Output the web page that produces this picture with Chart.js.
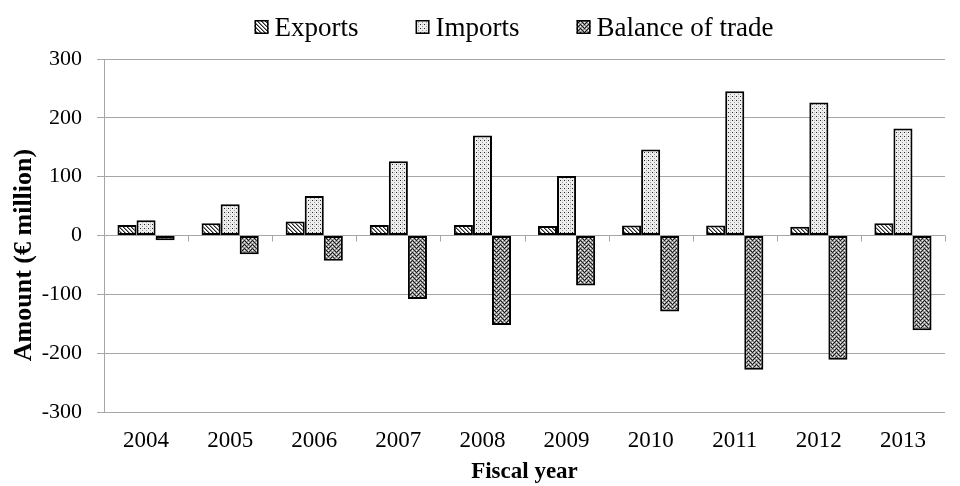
<!DOCTYPE html>
<html><head><meta charset="utf-8">
<script src="https://cdn.jsdelivr.net/npm/chart.js@4.4.1/dist/chart.umd.min.js"></script>
<style>html,body{margin:0;padding:0;background:#fff}</style>
</head><body>
<canvas id="c" width="960" height="486"></canvas>
<script>
const categories = ['2004','2005','2006','2007','2008','2009','2010','2011','2012','2013'];
const seriesNames = ['Exports','Imports','Balance of trade'];
const exportsValues = [18, 21, 24, 18, 18, 16, 17, 17, 15, 21];
const importsValues = [26, 53, 67, 126, 170, 101, 146, 245, 226, 182];
const balanceValues = [-8, -32, -43, -108, -152, -85, -129, -228, -211, -161];
const yTicks = [-300, -200, -100, 0, 100, 200, 300];

const FONT = '"Liberation Serif", "Times New Roman", serif';
const GRID = '#a6a6a6';
const canvas = document.getElementById('c');
const mainCtx = canvas.getContext('2d');

function makePattern(w, h, fn) {
  const t = document.createElement('canvas');
  t.width = w; t.height = h;
  const g = t.getContext('2d');
  const img = g.createImageData(w, h);
  for (let y = 0; y < h; y++) for (let x = 0; x < w; x++) {
    const v = fn(x, y); const i = (y * w + x) * 4;
    img.data[i] = img.data[i+1] = img.data[i+2] = v; img.data[i+3] = 255;
  }
  g.putImageData(img, 0, 0);
  return mainCtx.createPattern(t, 'repeat');
}
const patExports = makePattern(4, 4, (x, y) => {
  const d = ((x - y) % 4 + 4) % 4;
  return d === 0 ? 40 : (d === 1 ? 140 : 255);
});
const patImports = makePattern(4, 4, (x, y) => {
  if (x === 0 && y === 0) return 40;
  if (x === 2 && y === 2) return 150;
  if (x === 2 && y === 0) return 200;
  return 238;
});
const patBalance = makePattern(8, 8, (x, y) => {
  const zz = Math.abs(x - 4);
  const d = ((y - zz) % 4 + 4) % 4;
  const d2 = ((y + zz) % 4 + 4) % 4;
  if (d === 0) return 25;
  if (d2 === 2) return 245;
  return 150;
});

const legendPlugin = {
  id: 'patternLegend',
  afterDraw(chart) {
    const ctx = chart.ctx;
    ctx.save();
    ctx.font = '27px ' + FONT;
    const box = 14, gapText = 6, gapItem = 57;
    const items = chart.data.datasets.map(d => ({label: d.label, fill: d.backgroundColor, w: ctx.measureText(d.label).width}));
    const total = items.reduce((s, it) => s + box + gapText + it.w, 0) + gapItem * (items.length - 1);
    let x = 514 - total / 2;
    const boxTop = 20, baseline = 36;
    items.forEach(it => {
      ctx.fillStyle = it.fill;
      ctx.fillRect(x, boxTop, box, box);
      ctx.strokeStyle = '#000'; ctx.lineWidth = 1.5;
      ctx.strokeRect(x + 0.75, boxTop + 0.75, box - 1.5, box - 1.5);
      ctx.fillStyle = '#000'; ctx.textBaseline = 'alphabetic'; ctx.textAlign = 'left';
      ctx.fillText(it.label, x + box + gapText, baseline);
      x += box + gapText + it.w + gapItem;
    });
    ctx.restore();
  }
};

const zeroTicks = {
  id: 'zeroTicks',
  beforeDatasetsDraw(chart) {
    const {ctx, scales: {x, y}} = chart;
    const y0 = y.getPixelForValue(0);
    const half = (x.getPixelForValue(1) - x.getPixelForValue(0)) / 2;
    ctx.save();
    ctx.strokeStyle = GRID; ctx.lineWidth = 1;
    ctx.beginPath();
    for (let i = 0; i < categories.length; i++) {
      const px = Math.round(x.getPixelForValue(i) + half) + 0.5;
      ctx.moveTo(px, y0); ctx.lineTo(px, y0 + 6);
    }
    ctx.stroke();
    ctx.restore();
  }
};

const barCommon = {borderColor: '#000', borderWidth: 2, borderSkipped: false, categoryPercentage: 0.68, barPercentage: 1.0};

new Chart(canvas, {
  type: 'bar',
  data: {
    labels: categories,
    datasets: [
      Object.assign({label: seriesNames[0], data: exportsValues, backgroundColor: patExports}, barCommon),
      Object.assign({label: seriesNames[1], data: importsValues, backgroundColor: patImports}, barCommon),
      Object.assign({label: seriesNames[2], data: balanceValues, backgroundColor: patBalance}, barCommon)
    ]
  },
  options: {
    responsive: false,
    animation: false,
    layout: {padding: {top: 59, right: 15, bottom: 0, left: 0}},
    plugins: {legend: {display: false}, tooltip: {enabled: false}},
    scales: {
      x: {
        offset: true,
        grid: {display: false, drawTicks: false},
        border: {display: false},
        ticks: {font: {family: FONT, size: 23}, color: '#000', padding: 15, maxRotation: 0, autoSkip: false},
        title: {display: true, text: 'Fiscal year', font: {family: FONT, size: 23, weight: 'bold'}, color: '#000', padding: {top: 0, bottom: 0}},
        afterFit: s => { s.height = 74; }
      },
      y: {
        min: -300, max: 300,
        afterBuildTicks: s => { s.ticks = yTicks.map(v => ({value: v})); },
        ticks: {font: {family: FONT, size: 22}, color: '#000', padding: 15},
        grid: {color: GRID, lineWidth: 1, tickLength: 7, drawTicks: true},
        border: {display: true, color: GRID, width: 1},
        title: {display: true, text: 'Amount (€ million)' + '\u00a0'.repeat(6), font: {family: FONT, size: 26, weight: 'bold'}, color: '#000', padding: {top: 9, bottom: 0}},
        afterFit: s => { s.width = 104; }
      }
    }
  },
  plugins: [zeroTicks, legendPlugin]
});
</script>
</body></html>
